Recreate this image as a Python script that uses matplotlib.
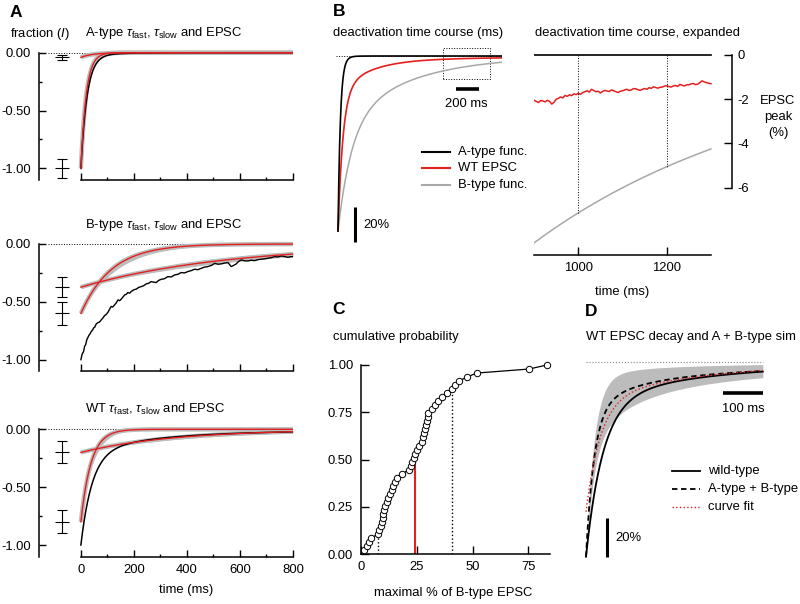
import numpy as np
import matplotlib
matplotlib.use("Agg")
import matplotlib.pyplot as plt
from matplotlib.lines import Line2D
from matplotlib.patches import Rectangle

plt.rcParams['font.family'] = ['Liberation Sans', 'DejaVu Sans']
plt.rcParams['mathtext.fontset'] = 'custom'
plt.rcParams['mathtext.rm'] = 'Liberation Sans'
plt.rcParams['mathtext.it'] = 'Liberation Sans:italic'
plt.rcParams['axes.unicode_minus'] = False
plt.rcParams['font.size'] = 9.4

W, H = 800, 604
RED = '#e41f1f'
GREY = '#a8a8a8'
BAND = '#bcbcbc'

# ---------------- data ----------------
# panel A: fit components (amplitude, tau in ms) with SEM / tau range
A_AMPS = [1.00, 0.04]
A_SEM = [0.085, 0.02]
A_TAUS = [20, 45]
A_TAU_LO = [17, 36]
A_TAU_HI = [24, 56]
A_EPSC_AMPS = [0.97, 0.03]
A_EPSC_TAUS = [23, 100]

B_AMPS = [0.60, 0.373]
B_SEM = [0.10, 0.087]
B_TAUS = [115, 550]
B_TAU_LO = [100, 470]
B_TAU_HI = [135, 650]

WT_AMPS = [0.80, 0.20]
WT_SEM = [0.10, 0.095]
WT_TAUS = [38, 350]
WT_TAU_LO = [33, 290]
WT_TAU_HI = [45, 430]
WT_EPSC_AMPS = [0.79, 0.19, 0.02]
WT_EPSC_TAUS = [42, 260, 2000]

# B-type EPSC trace (noisy), time in ms and fraction of peak
B_EPSC_T = [0, 5, 10, 14, 18, 22, 26, 30, 35, 39,
            44, 48, 52, 58, 64, 70, 77, 83, 89, 95,
            102, 108, 114, 120, 127, 133, 140, 146, 152, 158,
            165, 171, 177, 184, 190, 200, 209, 218, 228, 237,
            246, 255, 265, 275, 284, 293, 303, 315, 328, 341,
            354, 366, 378, 391, 404, 416, 429, 441, 454, 466,
            479, 492, 505, 517, 529, 542, 555, 561, 567, 576,
            586, 595, 605, 617, 630, 642, 655, 668, 680, 693,
            706, 718, 731, 743, 756, 768, 781, 790, 800]
B_EPSC_Y = [-1.00, -0.95, -0.93, -0.885, -0.87, -0.83, -0.81, -0.79, -0.775, -0.756,
            -0.745, -0.725, -0.72, -0.69, -0.68, -0.675, -0.655, -0.64, -0.62, -0.61,
            -0.59, -0.565, -0.54, -0.545, -0.526, -0.51, -0.483, -0.49, -0.477, -0.46,
            -0.44, -0.435, -0.42, -0.425, -0.41, -0.395, -0.39, -0.375, -0.368, -0.36,
            -0.345, -0.34, -0.325, -0.33, -0.333, -0.315, -0.305, -0.30, -0.282, -0.285,
            -0.267, -0.262, -0.247, -0.25, -0.238, -0.23, -0.218, -0.222, -0.21, -0.20,
            -0.195, -0.185, -0.167, -0.175, -0.172, -0.165, -0.161, -0.178, -0.195, -0.185,
            -0.172, -0.15, -0.138, -0.145, -0.147, -0.14, -0.144, -0.135, -0.132, -0.128,
            -0.123, -0.118, -0.109, -0.112, -0.103, -0.108, -0.115, -0.11, -0.109]

# panel B: deactivation functions
AFUNC_AMPS = [0.96, 0.04]
AFUNC_TAUS = [20, 45]
BFUNC_AMPS = [0.60, 0.40]
BFUNC_TAUS = [115, 580]

# expanded WT EPSC tail (% of peak), sampled every 5 ms from 900 to 1300 ms
EXP_T = list(range(900, 1305, 5))
EXP_WT = [-2.05, -2.10, -2.15, -2.06, -2.08, -2.12, -2.05, -2.10, -2.22, -2.14,
          -2.00, -1.96, -1.90, -1.94, -1.83, -1.87, -1.80, -1.84, -1.76, -1.79,
          -1.73, -1.78, -1.70, -1.66, -1.62, -1.68, -1.55, -1.61, -1.66, -1.64,
          -1.72, -1.65, -1.60, -1.63, -1.65, -1.58, -1.62, -1.66, -1.70, -1.64,
          -1.62, -1.58, -1.55, -1.61, -1.58, -1.52, -1.53, -1.57, -1.60, -1.55,
          -1.52, -1.55, -1.48, -1.51, -1.44, -1.47, -1.50, -1.46, -1.45, -1.41,
          -1.39, -1.43, -1.45, -1.40, -1.38, -1.42, -1.33, -1.37, -1.40, -1.35,
          -1.35, -1.31, -1.29, -1.34, -1.32, -1.25, -1.17, -1.22, -1.25, -1.28,
          -1.30]

# panel C: maximal % of B-type EPSC per cell
C_VALUES = [1.4, 2.4, 3.5, 4.4, 7.4, 8.1, 8.7, 9.2, 9.6, 9.9,
            10.4, 10.7, 11.4, 12.1, 13.0, 13.7, 14.4, 15.2, 15.9, 18.4,
            21.6, 22.3, 22.9, 23.7, 24.1, 24.9, 26.1, 27.2, 27.9, 28.3,
            28.6, 29.1, 29.4, 29.9, 30.1, 31.7, 33.1, 34.6, 36.4, 38.4,
            40.6, 42.0, 44.0, 47.4, 51.9, 75.5, 83.4]
C_MEDIAN = (24.3, 0.52)
C_P10 = (7.6, 0.11)
C_P90 = (40.8, 0.87)

# panel D
D_FB = 0.24
D_FB_RANGE = (0.074, 0.41)
D_FIT_AMPS = [0.574, 0.196]
D_FIT_TAUS = [36, 300]


def dexp(t, amps, taus):
    return -sum(a * np.exp(-t / tau) for a, tau in zip(amps, taus))


def ab_mix(t, fb):
    return (1 - fb) * dexp(t, AFUNC_AMPS, AFUNC_TAUS) + fb * dexp(t, BFUNC_AMPS, BFUNC_TAUS)


fig = plt.figure(figsize=(W / 100, H / 100), dpi=100)


def axpx(x0, y0, x1, y1):
    return fig.add_axes([x0 / W, 1 - y1 / H, (x1 - x0) / W, (y1 - y0) / H])


def ftext(px, py, s, **kw):
    kw.setdefault('va', 'center')
    fig.text(px / W, 1 - py / H, s, **kw)


def fline(x0, x1, py, **kw):
    fig.add_artist(Line2D([x0 / W, x1 / W], [1 - py / H, 1 - py / H], **kw))


# ---------------- panel A ----------------
t = np.linspace(0, 800, 801)
scale = 115.7
a_rows = [
    (52.7, A_AMPS, A_SEM, A_TAUS, A_TAU_LO, A_TAU_HI, 'A-type'),
    (244.0, B_AMPS, B_SEM, B_TAUS, B_TAU_LO, B_TAU_HI, 'B-type'),
    (429.3, WT_AMPS, WT_SEM, WT_TAUS, WT_TAU_LO, WT_TAU_HI, 'WT'),
]
for i, (y0, amps, sems, taus, lo, hi, name) in enumerate(a_rows):
    ax = axpx(39, y0 - 0.03 * scale, 293, y0 + 1.1 * scale)
    ax.set_xlim(-158, 800)
    ax.set_ylim(-1.1, 0.03)
    for s in ['top', 'right']:
        ax.spines[s].set_visible(False)
    ax.spines['left'].set_bounds(-1.1, 0)
    ax.spines['bottom'].set_bounds(0, 800)
    for s in ['left', 'bottom']:
        ax.spines[s].set_linewidth(1.1)
    ax.set_xticks(range(0, 801, 200))
    ax.set_xticks(range(100, 800, 200), minor=True)
    ax.set_yticks([0, -0.5, -1.0])
    ax.set_yticks([-0.25, -0.75], minor=True)
    ax.set_yticklabels(['0.00', '-0.50', '-1.00'])
    ax.tick_params(which='major', direction='in', length=5, width=1.0)
    ax.tick_params(which='minor', direction='in', length=2.5, width=1.0)
    ax.tick_params(axis='y', pad=6)
    if i < 2:
        ax.set_xticklabels([])
    else:
        ax.tick_params(axis='x', pad=5)
    ax.plot([-125, 800], [0, 0], ls=':', color='k', lw=0.7)

    for a, tau, tl, th in zip(amps, taus, lo, hi):
        ax.fill_between(t, -a * np.exp(-t / tl), -a * np.exp(-t / th), color=BAND, lw=0)
        ax.plot(t, -a * np.exp(-t / tau), color=BAND, lw=3.2, solid_capstyle='butt')

    if name == 'A-type':
        ax.plot(t, dexp(t, A_EPSC_AMPS, A_EPSC_TAUS), color='k', lw=1.1)
    elif name == 'B-type':
        ax.plot(B_EPSC_T, B_EPSC_Y, color='k', lw=1.0)
    else:
        ax.plot(t, dexp(t, WT_EPSC_AMPS, WT_EPSC_TAUS), color='k', lw=1.1)

    for a, tau in zip(amps, taus):
        ax.plot(t, -a * np.exp(-t / tau), color=RED, lw=1.0)

    means = [-a for a in amps]
    ax.errorbar([-72] * 2, means, yerr=sems, fmt='none', ecolor='k', elinewidth=0.8,
                capsize=3.6, capthick=0.8, clip_on=False)
    ax.plot([-72] * 2, means, ls='none', marker='_', ms=9.5, mew=0.8, color='k')

    ftext(85, y0 - 19.4, name + r' $\tau_{\rm fast}$, $\tau_{\rm slow}$ and EPSC', ha='left')

ftext(186, 590, 'time (ms)', ha='center')
ftext(10, 33.5, 'fraction ($I$)', ha='left')
ftext(10, 12.5, 'A', ha='left', fontweight='bold', fontsize=12.5)

# ---------------- panel B (left) ----------------
kx = 0.117
axb = axpx(338 - 20 * kx, 56 - 0.05 * 175, 338 + 1400 * kx, 56 + 1.06 * 175)
axb.set_xlim(-20, 1400)
axb.set_ylim(-1.06, 0.05)
axb.axis('off')
tb = np.linspace(0, 1400, 1401)
axb.plot([-15, 1400], [0, 0], ls=':', color='k', lw=0.7)
axb.plot(tb, dexp(tb, BFUNC_AMPS, BFUNC_TAUS), color=GREY, lw=1.1)
axb.plot(tb, dexp(tb, WT_EPSC_AMPS, WT_EPSC_TAUS), color=RED, lw=1.2)
axb.plot(tb, dexp(tb, AFUNC_AMPS, AFUNC_TAUS), color='k', lw=1.2)
axb.add_patch(Rectangle((900, -0.133), 400, 0.177, fill=False, ls=':', lw=0.7, ec='k'))
axb.plot([1005, 1205], [-0.189, -0.189], color='k', lw=2.6, solid_capstyle='butt')
axb.plot([145, 145], [-1.061, -0.861], color='k', lw=2.2, solid_capstyle='butt', clip_on=False)
ftext(466, 104, '200 ms', ha='center')
ftext(363, 225, '20%', ha='left')
ftext(333, 12, 'B', ha='left', fontweight='bold', fontsize=12.5)
ftext(333, 33.3, 'deactivation time course (ms)', ha='left')
for py, col, lab in [(151.7, 'k', 'A-type func.'), (168.3, RED, 'WT EPSC'), (185, GREY, 'B-type func.')]:
    fline(421.7, 450, py, color=col, lw=1.5)
    ftext(457.7, py, lab, ha='left')

# ---------------- panel B (expanded) ----------------
ke = 0.442
axe = axpx(534.1, 55 - 0.2 * 22.1, 534.1 + 447 * ke, 255)
axe.set_xlim(900, 1347)
axe.set_ylim(-9.05, 0.2)
for s in ['top', 'left']:
    axe.spines[s].set_visible(False)
axe.spines['bottom'].set_bounds(900, 1300)
axe.spines['right'].set_bounds(-6, 0)
for s in ['right', 'bottom']:
    axe.spines[s].set_linewidth(1.1)
axe.yaxis.tick_right()
axe.set_yticks([0, -2, -4, -6])
axe.set_yticklabels(['0', '-2', '-4', '-6'])
axe.set_xticks([1000, 1200])
axe.tick_params(direction='in', length=5.5, width=1.0)
axe.tick_params(axis='y', pad=4)
axe.tick_params(axis='x', pad=5)
te = np.linspace(900, 1300, 401)
axe.plot(te, 100 * dexp(te, BFUNC_AMPS, BFUNC_TAUS), color=GREY, lw=1.1)
axe.plot(te, 100 * dexp(te, AFUNC_AMPS, AFUNC_TAUS), color='k', lw=1.2)
axe.plot(EXP_T, EXP_WT, color=RED, lw=1.1)
for tv in [1000, 1200]:
    axe.plot([tv, tv], [100 * dexp(tv, AFUNC_AMPS, AFUNC_TAUS), 100 * dexp(tv, BFUNC_AMPS, BFUNC_TAUS)],
             ls=':', color='k', lw=0.7)
ftext(535, 33.3, 'deactivation time course, expanded', ha='left')
ftext(622.5, 291.7, 'time (ms)', ha='center')
ftext(778, 116.7, 'EPSC\npeak\n(%)', ha='center', linespacing=1.45)

# ---------------- panel C ----------------
kc = 2.224
axc = axpx(361.3, 365, 361.3 + 84.8 * kc, 554.3)
axc.set_xlim(0, 84.8)
axc.set_ylim(0, 1.0)
for s in ['top', 'right']:
    axc.spines[s].set_visible(False)
for s in ['left', 'bottom']:
    axc.spines[s].set_linewidth(1.1)
axc.set_xticks([0, 25, 50, 75])
axc.set_yticks([0, 0.25, 0.5, 0.75, 1.0])
axc.set_yticklabels(['0.00', '0.25', '0.50', '0.75', '1.00'])
axc.tick_params(direction='in', length=5.5, width=1.0)
axc.tick_params(axis='y', pad=6)
axc.tick_params(axis='x', pad=5)
cy = np.arange(1, len(C_VALUES) + 1) / len(C_VALUES)
axc.plot([C_MEDIAN[0]] * 2, [0, C_MEDIAN[1]], color=RED, lw=1.5, zorder=2)
axc.plot([C_P10[0]] * 2, [0, C_P10[1]], color='k', ls=':', lw=1.0, zorder=2)
axc.plot([C_P90[0]] * 2, [0, C_P90[1]], color='k', ls=':', lw=1.0, zorder=2)
axc.plot(C_VALUES, cy, '-o', color='k', lw=0.9, ms=4.6, mfc='white', mec='k', mew=0.7,
         clip_on=False, zorder=3)
ftext(332, 310, 'C', ha='left', fontweight='bold', fontsize=12.5)
ftext(333, 336.7, 'cumulative probability', ha='left')
ftext(453, 593, 'maximal % of B-type EPSC', ha='center')

# ---------------- panel D ----------------
kd = 0.4
axd = axpx(586 - 5 * kd, 361.7 - 0.05 * 195, 586 + 450 * kd, 361.7 + 1.05 * 195)
axd.set_xlim(-5, 450)
axd.set_ylim(-1.05, 0.05)
axd.axis('off')
td = np.linspace(0, 442, 443)
axd.fill_between(td, ab_mix(td, D_FB_RANGE[0]), ab_mix(td, D_FB_RANGE[1]), color=BAND, lw=0)
axd.plot([0, 442], [0, 0], ls=':', color='#888888', lw=0.8)
axd.plot(td, dexp(td, WT_EPSC_AMPS, WT_EPSC_TAUS), color='k', lw=1.3)
axd.plot(td, ab_mix(td, D_FB), color='k', lw=1.3, dashes=(3, 2))
axd.plot(td, dexp(td, D_FIT_AMPS, D_FIT_TAUS), color=RED, lw=1.0, ls=':')
axd.plot([343, 443], [-0.159, -0.159], color='k', lw=2.6, solid_capstyle='butt')
axd.plot([51.7, 51.7], [-1.003, -0.803], color='k', lw=2.2, solid_capstyle='butt')
ftext(743.3, 409.3, '100 ms', ha='center')
ftext(615, 538.3, '20%', ha='left')
ftext(585, 311, 'D', ha='left', fontweight='bold', fontsize=12.5)
ftext(586, 336.7, 'WT EPSC decay and A + B-type sim', ha='left')
fline(671.7, 700, 470.7, color='k', lw=1.3)
fline(671.7, 700, 489, color='k', lw=1.3, dashes=(3, 2))
fline(671.7, 700, 507.3, color=RED, lw=1.0, ls=':')
ftext(708.3, 470.7, 'wild-type', ha='left')
ftext(708.3, 489, 'A-type + B-type', ha='left')
ftext(708.3, 507.3, 'curve fit', ha='left')

fig.savefig('out.png', dpi=100)
